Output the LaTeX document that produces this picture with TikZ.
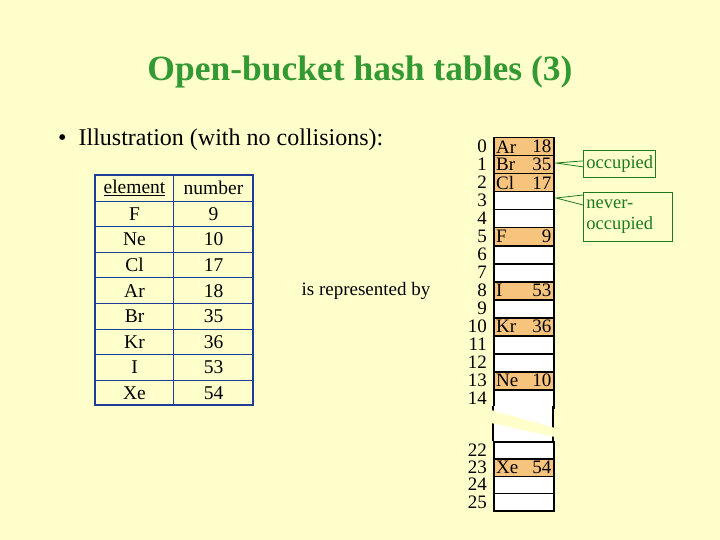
\documentclass[tikz,border=0pt]{standalone}
\usepackage{fontspec}
\setmainfont{Liberation Serif}
\definecolor{bg}{HTML}{FFFFCC}
\definecolor{ttl}{HTML}{339933}
\definecolor{occ}{HTML}{F7C47E}
\definecolor{tblue}{HTML}{1F3C99}
\definecolor{cg}{HTML}{1E7A1E}
\begin{document}
\begin{tikzpicture}[x=1pt,y=-1pt,
  txt/.style={inner sep=0pt,font=\fontsize{19.5}{19.5}\selectfont},
  htxt/.style={inner sep=0pt,font=\fontsize{19}{19}\selectfont},
  cell/.style={draw=black,line width=1.5pt,minimum width=60pt,minimum height=18pt,inner sep=0pt,anchor=north west},
  full/.style={cell,fill=occ},
  empt/.style={cell,fill=white},
  idx/.style={inner sep=0pt,anchor=east,font=\fontsize{19}{19}\selectfont},
  callout/.style={draw=cg,fill=bg,text=cg,line width=0.8pt,font=\fontsize{18.5}{21}\selectfont,align=left,inner sep=3pt}]
\fill[bg] (0,0) rectangle (720,540);
\useasboundingbox (0,0) rectangle (720,540);
\node[text=ttl,font=\bfseries\fontsize{35.5}{35.5}\selectfont] (title) at (360,72) {Open-bucket hash tables (3)};
\node[inner sep=0pt,anchor=west,font=\fontsize{24}{24}\selectfont] (bul) at (58,140) {\textbullet\ \ Illustration (with no collisions):};
% left table
\foreach \i/\e/\n in {0/{\underline{element}}/number,1/F/9,2/Ne/10,3/Cl/17,4/Ar/18,5/Br/35,6/Kr/36,7/I/53,8/Xe/54}{
  \node[draw=tblue,line width=1pt,minimum width=78pt,minimum height=25.6pt,anchor=north west,txt] (e\i) at (95,{175+25.6*\i}) {\e};
  \node[draw=tblue,line width=1pt,minimum width=80pt,minimum height=25.6pt,anchor=north west,txt] (n\i) at (173,{175+25.6*\i}) {\n};
}
\draw[tblue,line width=2pt] (95,175) rectangle (253,405.4);
\node[htxt] (rep) at (366,291) {is represented by};
% hash table rows 0-14
\foreach \i/\e/\n in {0/Ar/18,1/Br/35,2/Cl/17,5/F/9,8/I/53,10/Kr/36,13/Ne/10}{
  \node[full] (c\i) at (493,{137+18*\i}) {};
  \node[htxt,anchor=west] at ([xshift=3pt]c\i.west) {\e};
  \node[htxt,anchor=east] at ([xshift=-3pt]c\i.east) {\n};
}
\foreach \i in {3,4,6,7,9,11,12,14}{ \node[empt] (c\i) at (493,{137+18*\i}) {}; }
\foreach \i in {0,...,14}{ \node[idx] at (487,{146+18*\i}) {\i}; }
% broken part
\fill[white] (493,406) rectangle (553,441);
\draw[black,line width=1.5pt] (493,406) -- (493,441) (553,406) -- (553,441);
\fill[bg] (491,410) -- (555,428) -- (555,437) -- (491,423) -- cycle;
% rows 22-25
\foreach \i/\k in {0/22,1/23,2/24,3/25}{
  \node[empt,minimum height=17.3pt] (d\k) at (493,{441+17.3*\i}) {};
  \node[idx] at (487,{450+17.3*\i}) {\k};
}
\node[full,minimum height=17.3pt] (d23) at (493,458.3) {};
\node[htxt,anchor=west] at ([xshift=3pt]d23.west) {Xe};
\node[htxt,anchor=east] at ([xshift=-3pt]d23.east) {54};
% callouts
\node[callout,text width=66pt,minimum height=27pt,anchor=north west] (occbox) at (583,150) {occupied};
\node[callout,text width=83pt,minimum height=49pt,anchor=north west] (nevbox) at (583,192) {never-\\occupied};
\coordinate (p1) at (556,163);
\coordinate (p2) at (556,198);
\fill[bg] ([yshift=-3pt]occbox.west) -- (p1) -- ([yshift=3pt]occbox.west) -- cycle;
\draw[cg,line width=0.8pt] ([yshift=-3pt]occbox.west) -- (p1) -- ([yshift=3pt]occbox.west);
\draw[cg,line width=0.8pt] (583,195) -- (p2) -- (583,205);
\end{tikzpicture}
\end{document}
